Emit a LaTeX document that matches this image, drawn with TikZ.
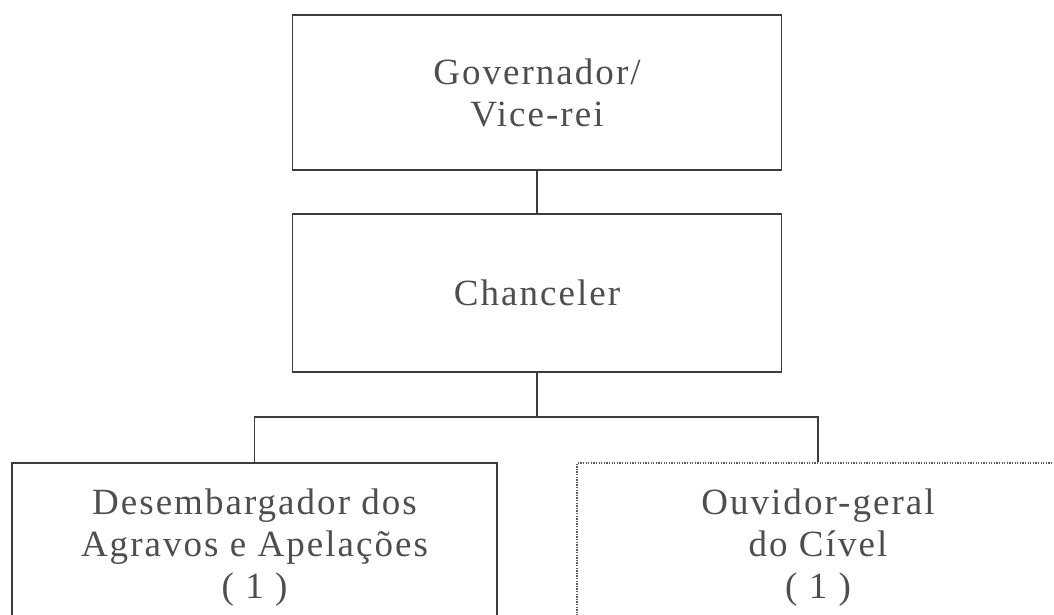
\documentclass[tikz,border=0pt]{standalone}
\usepackage{fontspec}
\setmainfont{Liberation Serif}[LetterSpace=5.5]
\definecolor{inkline}{HTML}{3C3C3C}
\definecolor{inktext}{HTML}{4E4E4E}
\definecolor{inkdot}{HTML}{5A5A5A}
\begin{document}
\begin{tikzpicture}[x=1pt,y=-1pt,
  orgbox/.style={draw=inkline, line width=1.6pt, inner sep=0pt, align=center,
    text=inktext, font=\fontsize{37}{42}\selectfont},
  dotbox/.style={orgbox, draw=inkdot, line width=1.8pt, dash pattern=on 1.3pt off 1.3pt},
  link/.style={draw=inkline, line width=1.6pt}]
\clip (0,0) rectangle (1054,614);
\fill[white] (0,0) rectangle (1054,614);
\node[orgbox, minimum width=489pt, minimum height=155pt] (gov) at (537,92.5) {Governador/\\Vice-rei};
\node[orgbox, minimum width=489pt, minimum height=158pt] (chan) at (537,293) {Chanceler};
\node[orgbox, minimum width=485pt, minimum height=169pt] (des) at (254.5,547.5) {Desembargador dos\\Agravos e Apelações\\( 1 )};
\node[dotbox, minimum width=482pt, minimum height=169pt] (ouv) at (818,547.5) {Ouvidor-geral\\do Cível\\( 1 )};
\coordinate (j) at (537,417);
\draw[link] (gov.south) -- (chan.north);
\draw[link] (chan.south) -- (j);
\draw[link] (des.north) |- (j) -| (ouv.north);
\end{tikzpicture}
\end{document}
